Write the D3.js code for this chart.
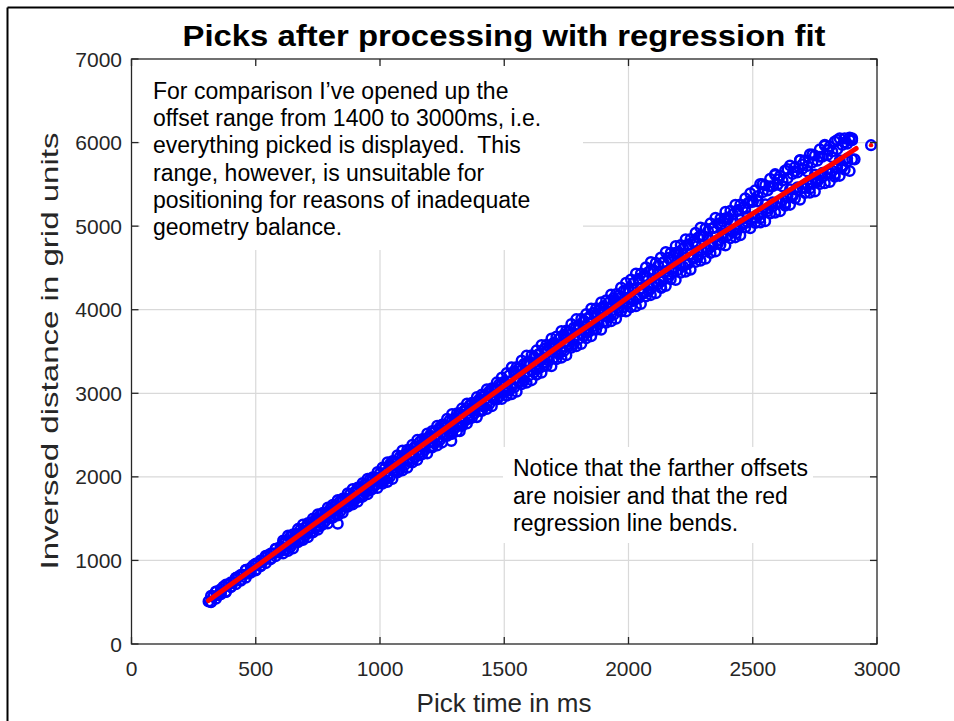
<!DOCTYPE html>
<html>
<head>
<meta charset="utf-8">
<script src="https://cdn.jsdelivr.net/npm/d3@7"></script>
<style>
  html, body { margin: 0; padding: 0; background: #ffffff; }
  svg { display: block; }
  text { font-family: "Liberation Sans", Arial, Helvetica, sans-serif; }
</style>
</head>
<body>
<svg id="chart" width="954" height="721"></svg>
<script>
// Picks: time (ms) and inversed distance (grid units), main sweep
const mainTime = [
  310,320,330,340,350,360,370,380,390,400,410,420,430,440,450,460,470,480,490,500,
  510,520,530,540,550,560,570,580,590,600,610,620,630,640,650,660,670,680,690,700,
  710,720,730,740,750,760,770,780,790,800,810,820,830,840,850,860,870,880,890,900,
  910,920,930,940,950,960,970,980,990,1000,
  1010,1020,1030,1040,1050,1060,1070,1080,1090,1100,1110,1120,1130,1140,1150,1160,1170,1180,1190,1200,
  1210,1220,1230,1240,1250,1260,1270,1280,1290,1300,1310,1320,1330,1340,1350,1360,1370,1380,1390,1400,
  1410,1420,1430,1440,1450,1460,1470,1480,1490,1500,
  1510,1520,1530,1540,1550,1560,1570,1580,1590,1600,1610,1620,1630,1640,1650,1660,1670,1680,1690,1700,
  1710,1720,1730,1740,1750,1760,1770,1780,1790,1800,1810,1820,1830,1840,1850,1860,1870,1880,1890,1900,
  1910,1920,1930,1940,1950,1960,1970,1980,1990,2000,
  2010,2020,2030,2040,2050,2060,2070,2080,2090,2100,2110,2120,2130,2140,2150,2160,2170,2180,2190,2200,
  2210,2220,2230,2240,2250,2260,2270,2280,2290,2300,2310,2320,2330,2340,2350,2360,2370,2380,2390,2400,
  2410,2420,2430,2440,2450,2460,2470,2480,2490,2500,
  2510,2520,2530,2540,2550,2560,2570,2580,2590,2600,2610,2620,2630,2640,2650,2660,2670,2680,2690,2700,
  2710,2720,2730,2740,2750,2760,2770,2780,2790,2800,2810,2820,2830,2840,2850,2860,2870,2880,2890,2900,2910
];
const mainDist = [
  510,501,573,629,585,622,688,624,710,682,738,789,806,757,828,885,841,877,943,880,
  966,937,994,1045,1061,1013,1084,1140,1096,1133,1199,1135,1222,1193,1249,1301,1317,1268,1339,1396,
  1352,1388,1455,1391,1477,1449,1505,1556,1572,1524,1595,1651,1608,1644,1710,1647,1733,1704,1760,1812,
  1828,1779,1851,1907,1863,1900,1966,1902,1988,1960,
  1977,2049,2000,2127,2099,2076,2173,2144,2241,2253,2195,2267,2218,2345,2317,2294,2391,2362,2459,2471,
  2413,2485,2436,2563,2535,2512,2609,2580,2677,2689,2631,2703,2654,2781,2753,2730,2827,2798,2895,2907,
  2849,2921,2872,2999,2971,2948,3045,3016,3113,3125,
  3052,3144,3075,3242,3179,3151,3278,3224,3356,3358,3270,3362,3293,3460,3397,3369,3496,3442,3574,3576,
  3488,3580,3511,3678,3615,3587,3714,3660,3792,3794,3706,3798,3729,3896,3833,3805,3932,3878,4010,4012,
  3924,4016,3947,4114,4051,4023,4150,4096,4228,4230,
  4121,4241,4132,4362,4253,4214,4384,4295,4475,4466,4327,4447,4338,4568,4459,4420,4590,4501,4681,4672,
  4533,4653,4544,4774,4665,4626,4796,4707,4887,4878,4739,4859,4750,4980,4871,4832,5002,4913,5093,5084,
  4945,5065,4956,5186,5077,5038,5208,5119,5299,5290,
  5098,5296,5094,5502,5260,5178,5476,5284,5612,5560,5278,5476,5274,5682,5440,5358,5656,5464,5792,5740,
  5457,5654,5451,5858,5616,5533,5830,5637,5964,5911,5628,5825,5622,6029,5787,5704,6001,5808,6060,6050,5799
];

// Picks just inside the spread, above and below the fit
const midTime = [
  320,340,360,380,400,420,440,460,480,500,520,540,560,580,600,
  620,640,660,680,700,720,740,760,780,800,820,840,860,880,900,920,940,960,980,1000,
  1020,1040,1060,1080,1100,1120,1140,1160,1180,1200,1220,1240,1260,1280,1300,1320,1340,1360,1380,1400,
  1420,1440,1460,1480,1500,
  1520,1540,1560,1580,1600,1620,1640,1660,1680,1700,1720,1740,1760,1780,1800,1820,1840,1860,1880,1900,
  1920,1940,1960,1980,2000,
  2020,2040,2060,2080,2100,2120,2140,2160,2180,2200,2220,2240,2260,2280,2300,2320,2340,2360,2380,2400,
  2420,2440,2460,2480,2500,
  2520,2540,2560,2580,2600,2620,2640,2660,2680,2700,2720,2740,2760,2780,2800,2820,2840,2860,2880,2900
];
const midUpperDist = [
  576,629,657,712,739,793,829,887,911,962,1002,1055,1083,1138,1165,
  1235,1288,1316,1371,1398,1452,1488,1546,1570,1621,1661,1714,1742,1797,1824,1878,1914,1972,1996,2047,
  2102,2155,2184,2240,2268,2324,2360,2419,2444,2496,2538,2591,2620,2676,2704,2760,2796,2855,2880,2932,
  2974,3027,3056,3112,3140,
  3214,3267,3296,3352,3380,3436,3472,3531,3556,3608,3650,3703,3732,3788,3816,3872,3908,3967,3992,4044,
  4086,4139,4168,4224,4252,
  4319,4370,4397,4451,4476,4529,4563,4620,4643,4692,4731,4782,4809,4863,4888,4941,4975,5032,5055,5104,
  5143,5194,5221,5275,5300,
  5361,5407,5428,5477,5497,5545,5574,5625,5643,5687,5719,5763,5783,5830,5848,5894,5921,5971,5987,6029
];
const midLowerDist = [
  506,541,597,624,683,715,765,793,854,888,932,967,1023,1050,1109,
  1125,1160,1216,1243,1302,1334,1384,1412,1473,1507,1551,1586,1642,1669,1728,1760,1810,1838,1899,1933,
  1966,2001,2058,2086,2146,2180,2230,2259,2321,2356,2402,2437,2494,2522,2582,2616,2666,2695,2757,2792,
  2838,2873,2930,2958,3018,
  3034,3069,3126,3154,3214,3248,3298,3327,3389,3424,3470,3505,3562,3590,3650,3684,3734,3763,3825,3860,
  3906,3941,3998,4026,4086,
  4106,4139,4194,4220,4277,4308,4356,4383,4443,4475,4518,4551,4606,4632,4689,4720,4768,4795,4855,4887,
  4930,4963,5018,5044,5101,
  5136,5164,5213,5234,5286,5312,5355,5376,5431,5458,5494,5520,5568,5587,5637,5661,5702,5722,5775,5800
];

// Picks along the upper and lower edges of the spread
const edgeTime = [
  610,630,650,670,690,710,730,750,770,790,810,830,850,870,890,910,930,950,970,990,
  1010,1030,1050,1070,1090,1110,1130,1150,1170,1190,1210,1230,1250,1270,1290,1310,1330,1350,1370,1390,
  1410,1430,1450,1470,1490,
  1510,1530,1550,1570,1590,1610,1630,1650,1670,1690,1710,1730,1750,1770,1790,1810,1830,1850,1870,1890,
  1910,1930,1950,1970,1990,
  2010,2030,2050,2070,2090,2110,2130,2150,2170,2190,2210,2230,2250,2270,2290,2310,2330,2350,2370,2390,
  2410,2430,2450,2470,2490,
  2510,2530,2550,2570,2590,2610,2630,2650,2670,2690,2710,2730,2750,2770,2790,2810,2830,2850,2870,2890
];
const upperDist = [
  1239,1297,1314,1377,1429,1447,1500,1552,1570,1632,1665,1723,1740,1803,1855,1873,1926,1978,1996,2058,
  2112,2175,2189,2258,2316,2325,2383,2442,2451,2519,2548,2611,2625,2694,2752,2761,2819,2878,2887,2955,
  2984,3047,3061,3130,3188,
  3242,3310,3314,3393,3451,3455,3513,3577,3581,3654,3678,3746,3750,3829,3887,3891,3949,4013,4017,4090,
  4114,4182,4186,4265,4323,
  4361,4432,4433,4509,4570,4562,4623,4689,4680,4761,4773,4844,4845,4921,4982,4974,5035,5101,5092,5173,
  5185,5256,5257,5333,5394,
  5428,5504,5490,5566,5622,5603,5664,5725,5706,5787,5787,5861,5846,5920,5974,5953,6012,6050,6050,6030
];
const lowerDist = [
  1084,1112,1144,1217,1244,1277,1335,1367,1430,1442,1510,1538,1570,1643,1670,1703,1761,1793,1856,1868,
  1917,1940,1974,2053,2076,2110,2173,2202,2271,2279,2353,2376,2410,2489,2512,2546,2609,2638,2707,2715,
  2789,2812,2846,2925,2933,
  2972,2990,3019,3108,3126,3155,3223,3247,3326,3324,3408,3426,3455,3544,3562,3591,3659,3683,3762,3760,
  3844,3862,3891,3980,3978,
  4031,4042,4068,4159,4175,4197,4268,4284,4365,4356,4443,4454,4480,4571,4587,4609,4680,4696,4777,4768,
  4855,4866,4892,4983,4974,
  5038,5044,5060,5151,5162,5178,5244,5255,5331,5317,5397,5401,5416,5505,5514,5528,5592,5602,5676,5660
];

// Stray picks just outside the spread
const strayTime = [830, 1287, 1321, 2132, 2433, 2755, 2976];
const strayDist = [1440, 2430, 2545, 4260, 4915, 5550, 5969];

// Regression fit
const fitTime = [310, 500, 750, 1000, 1250, 1500, 1750, 1930, 2100, 2300, 2500, 2700, 2850, 2916];
const fitDist = [520, 925, 1465, 2010, 2550, 3090, 3630, 4000, 4370, 4770, 5150, 5530, 5800, 5929];
const fitLoneTime = [2976];
const fitLoneDist = [5969];

// Axes
const xTicks = [0, 500, 1000, 1500, 2000, 2500, 3000];
const yTicks = [0, 1000, 2000, 3000, 4000, 5000, 6000, 7000];

const titleText = "Picks after processing with regression fit";
const xLabelText = "Pick time in ms";
const yLabelText = "Inversed distance in grid units";
const noteTop = [
  "For comparison I\u2019ve opened up the",
  "offset range from 1400 to 3000ms, i.e.",
  "everything picked is displayed.  This",
  "range, however, is unsuitable for",
  "positioning for reasons of inadequate",
  "geometry balance."
];
const noteBottom = [
  "Notice that the farther offsets",
  "are noisier and that the red",
  "regression line bends."
];

const svg = d3.select("#chart");
const axisColor = "#262626";

const x = d3.scaleLinear().domain([0, 3000]).range([131.5, 877]);
const y = d3.scaleLinear().domain([0, 7000]).range([644, 59]);

// frame lines of the figure
svg.append("line").attr("x1", 7.5).attr("x2", 954).attr("y1", 7.5).attr("y2", 7.5)
  .attr("stroke", "#000").attr("stroke-width", 2);
svg.append("line").attr("x1", 7.5).attr("x2", 7.5).attr("y1", 7.5).attr("y2", 721)
  .attr("stroke", "#000").attr("stroke-width", 2);

// grid
const grid = svg.append("g");
grid.selectAll("line.gx").data(xTicks.slice(1, -1)).join("line")
  .attr("x1", d => x(d)).attr("x2", d => x(d)).attr("y1", y(0)).attr("y2", y(7000))
  .attr("stroke", "#d9d9d9").attr("stroke-width", 1.2);
grid.selectAll("line.gy").data(yTicks.slice(1, -1)).join("line")
  .attr("x1", x(0)).attr("x2", x(3000)).attr("y1", d => y(d)).attr("y2", d => y(d))
  .attr("stroke", "#d9d9d9").attr("stroke-width", 1.2);

// scatter picks
const picks = [];
mainTime.forEach((t, i) => picks.push([t, mainDist[i]]));
midTime.forEach((t, i) => picks.push([t, midUpperDist[i]]));
midTime.forEach((t, i) => picks.push([t, midLowerDist[i]]));
edgeTime.forEach((t, i) => picks.push([t, upperDist[i]]));
edgeTime.forEach((t, i) => picks.push([t, lowerDist[i]]));
strayTime.forEach((t, i) => picks.push([t, strayDist[i]]));

svg.append("g").selectAll("circle").data(picks).join("circle")
  .attr("cx", d => x(d[0])).attr("cy", d => y(d[1])).attr("r", 4.8)
  .attr("fill", "none").attr("stroke", "#0000ff").attr("stroke-width", 2.5);

// regression line
const fitLine = d3.line().x(d => x(d[0])).y(d => y(d[1])).curve(d3.curveMonotoneX);
svg.append("path").datum(fitTime.map((t, i) => [t, fitDist[i]]))
  .attr("d", fitLine).attr("fill", "none").attr("stroke", "#ff0000")
  .attr("stroke-width", 5).attr("stroke-linecap", "round");
svg.append("g").selectAll("circle").data(fitLoneTime.map((t, i) => [t, fitLoneDist[i]])).join("circle")
  .attr("cx", d => x(d[0])).attr("cy", d => y(d[1])).attr("r", 2.2).attr("fill", "#ff0000");

// annotation boxes
function note(lines, bx, by, bw, bh, tx, ty0, dy, size) {
  const g = svg.append("g");
  g.append("rect").attr("x", bx).attr("y", by).attr("width", bw).attr("height", bh)
    .attr("fill", "#ffffff");
  g.selectAll("text").data(lines).join("text")
    .attr("x", tx).attr("y", (d, i) => ty0 + i * dy)
    .attr("font-size", size).attr("fill", "#000").style("white-space", "pre")
    .text(d => d);
}
note(noteTop, 140, 62, 443, 188, 153, 99, 27.2, 23);
note(noteBottom, 503, 447, 310, 96, 513, 476, 27.5, 23);

// axes box with inward ticks
const ax = svg.append("g");
ax.append("rect").attr("x", x(0)).attr("y", y(7000)).attr("width", x(3000) - x(0))
  .attr("height", y(0) - y(7000)).attr("fill", "none").attr("stroke", axisColor).attr("stroke-width", 1.3);
const tl = 7;
xTicks.forEach(t => {
  ax.append("line").attr("x1", x(t)).attr("x2", x(t)).attr("y1", y(0)).attr("y2", y(0) - tl)
    .attr("stroke", axisColor).attr("stroke-width", 1.3);
  ax.append("line").attr("x1", x(t)).attr("x2", x(t)).attr("y1", y(7000)).attr("y2", y(7000) + tl)
    .attr("stroke", axisColor).attr("stroke-width", 1.3);
});
yTicks.forEach(t => {
  ax.append("line").attr("x1", x(0)).attr("x2", x(0) + tl).attr("y1", y(t)).attr("y2", y(t))
    .attr("stroke", axisColor).attr("stroke-width", 1.3);
  ax.append("line").attr("x1", x(3000)).attr("x2", x(3000) - tl).attr("y1", y(t)).attr("y2", y(t))
    .attr("stroke", axisColor).attr("stroke-width", 1.3);
});
ax.selectAll("text.xt").data(xTicks).join("text")
  .attr("x", d => x(d)).attr("y", 676).attr("text-anchor", "middle")
  .attr("font-size", 21).attr("fill", axisColor).text(d => d);
ax.selectAll("text.yt").data(yTicks).join("text")
  .attr("x", 122).attr("y", d => y(d) + 7.5).attr("text-anchor", "end")
  .attr("font-size", 21).attr("fill", axisColor).text(d => d);

// titles
svg.append("text").attr("x", 504).attr("y", 46).attr("text-anchor", "middle")
  .attr("font-size", 30).attr("font-weight", "bold").attr("fill", "#000")
  .attr("textLength", 643).attr("lengthAdjust", "spacingAndGlyphs").text(titleText);
svg.append("text").attr("x", 504).attr("y", 712).attr("text-anchor", "middle")
  .attr("font-size", 26).attr("fill", axisColor).text(xLabelText);
svg.append("text").attr("transform", "translate(58,351) rotate(-90)").attr("text-anchor", "middle")
  .attr("font-size", 24).attr("fill", axisColor)
  .attr("textLength", 437).attr("lengthAdjust", "spacingAndGlyphs").text(yLabelText);
</script>
</body>
</html>
